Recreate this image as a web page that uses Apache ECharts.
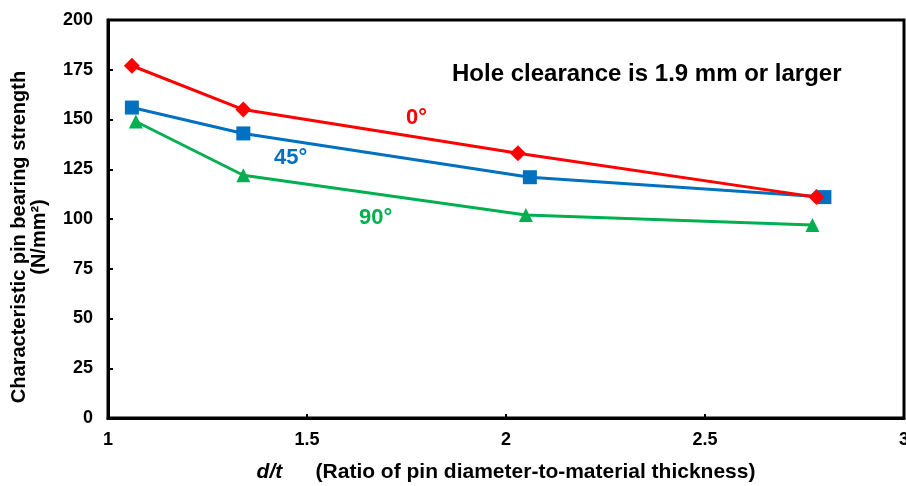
<!DOCTYPE html>
<html>
<head>
<meta charset="utf-8">
<script src="https://cdn.jsdelivr.net/npm/echarts@6/dist/echarts.min.js"></script>
<style>
  html, body { margin: 0; padding: 0; background: #fff; }
  #chart { width: 906px; height: 486px; }
</style>
</head>
<body>
<div id="chart"></div>
<script>
// d/t ratios and strengths (N/mm2)
var dt0  = [1.06, 1.34, 2.03, 2.78];
var str0 = [177, 155, 133, 111];
var dt45  = [1.06, 1.34, 2.06, 2.80];
var str45 = [156, 143, 121, 111];
var dt90  = [1.07, 1.34, 2.05, 2.77];
var str90 = [149, 122, 102, 97];

function pairs(xs, ys) {
  var out = [];
  for (var i = 0; i < xs.length; i++) out.push([xs[i], ys[i]]);
  return out;
}

var font = 'Liberation Sans, Arial, sans-serif';

var chart = echarts.init(document.getElementById('chart'));
chart.setOption({
  animation: false,
  grid: {
    left: 108, right: 2, top: 20, bottom: 68,
    outerBoundsMode: 'none', containLabel: false,
    show: true, borderColor: '#000', borderWidth: 3
  },
  xAxis: {
    type: 'value', min: 1, max: 3, interval: 0.5,
    axisLine: { show: true, lineStyle: { color: '#000', width: 3 } },
    axisTick: { show: true, inside: true, length: 4, lineStyle: { color: '#000', width: 2 } },
    splitLine: { show: false },
    axisLabel: {
      color: '#000', fontWeight: 'bold', fontSize: 18, fontFamily: font, margin: 13,
      formatter: function (v) { return String(v); }
    },
    name: '{it|d/t}          {n|(Ratio of pin diameter-to-material thickness)}',
    nameLocation: 'middle', nameGap: 44,
    nameTextStyle: {
      rich: {
        it: { fontStyle: 'italic', fontWeight: 'bold', fontSize: 21, fontFamily: font, color: '#000' },
        n: { fontWeight: 'bold', fontSize: 21, fontFamily: font, color: '#000' }
      }
    }
  },
  yAxis: {
    type: 'value', min: 0, max: 200, interval: 25,
    axisLine: { show: true, lineStyle: { color: '#000', width: 3 } },
    axisTick: { show: true, inside: true, length: 5, lineStyle: { color: '#000', width: 2 } },
    splitLine: { show: false },
    axisLabel: { color: '#000', fontWeight: 'bold', fontSize: 18, fontFamily: font, margin: 15 }
  },
  graphic: [
    {
      type: 'text', x: 29, y: 237, rotation: Math.PI / 2,
      style: {
        text: 'Characteristic pin bearing strength\n(N/mm²)',
        font: 'bold 20px ' + font, fill: '#000',
        align: 'center', verticalAlign: 'middle', lineHeight: 20
      }
    },
    {
      type: 'text', x: 452, y: 74,
      style: { text: 'Hole clearance is 1.9 mm or larger', font: 'bold 24px ' + font, fill: '#000', verticalAlign: 'middle' }
    },
    { type: 'text', x: 406, y: 118, style: { text: '0°', font: 'bold 22px ' + font, fill: '#FF0000', verticalAlign: 'middle' } },
    { type: 'text', x: 274, y: 158, style: { text: '45°', font: 'bold 22px ' + font, fill: '#0070C0', verticalAlign: 'middle' } },
    { type: 'text', x: 359, y: 218, style: { text: '90°', font: 'bold 22px ' + font, fill: '#00B050', verticalAlign: 'middle' } }
  ],
  series: [
    {
      name: '90°', type: 'line', data: pairs(dt90, str90),
      symbol: 'triangle', symbolSize: 14,
      lineStyle: { color: '#00B050', width: 3 },
      itemStyle: { color: '#00B050' }
    },
    {
      name: '45°', type: 'line', data: pairs(dt45, str45),
      symbol: 'rect', symbolSize: 14,
      lineStyle: { color: '#0070C0', width: 3 },
      itemStyle: { color: '#0070C0' }
    },
    {
      name: '0°', type: 'line', data: pairs(dt0, str0),
      symbol: 'diamond', symbolSize: 16,
      lineStyle: { color: '#FF0000', width: 3 },
      itemStyle: { color: '#FF0000' }
    }
  ]
});
</script>
</body>
</html>
